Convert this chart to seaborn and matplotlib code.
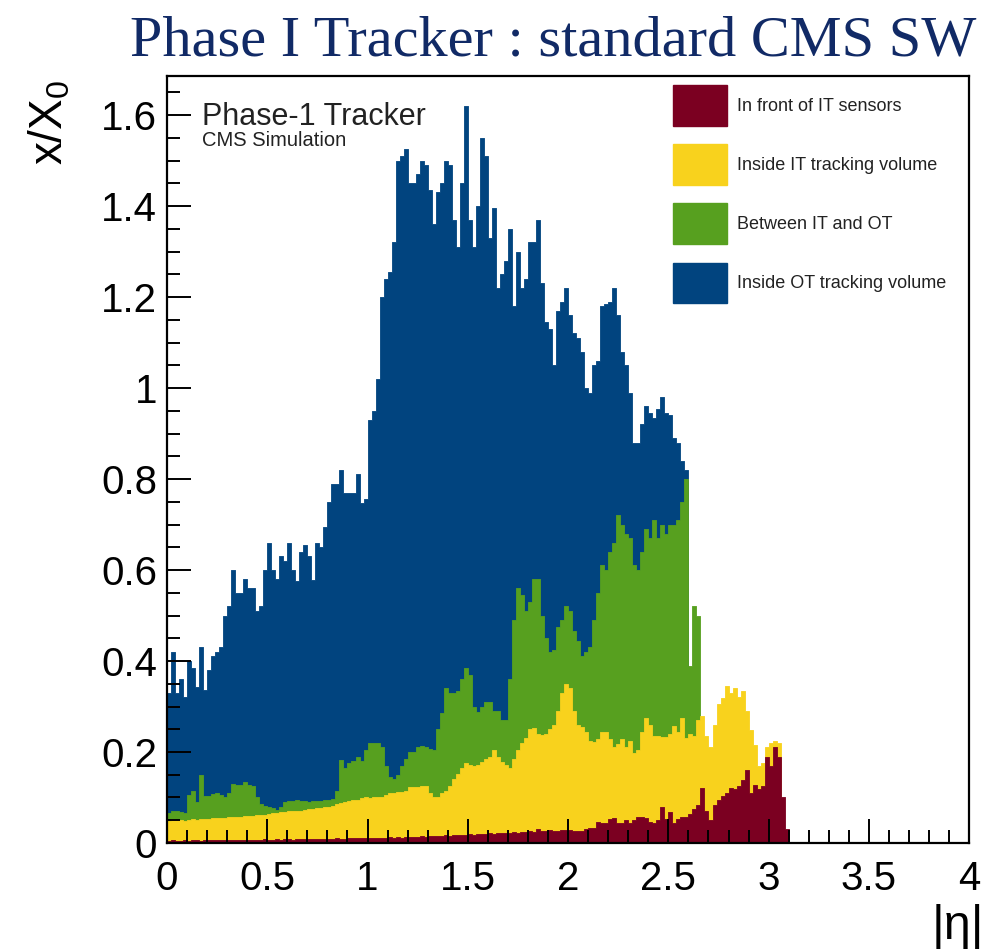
import numpy as np
import pandas as pd
import matplotlib
matplotlib.use("Agg")
import matplotlib.pyplot as plt
import seaborn as sns
from matplotlib.ticker import MultipleLocator, FuncFormatter
from matplotlib.patches import Patch

# Material budget x/X0 versus |eta|, stacked by detector region.
# Each array holds the top of the stacked layer in bins of width 0.02 starting at |eta| = 0.
BIN_WIDTH = 0.02

# Top of the full stack (Inside OT tracking volume layer)
level_total = [
    0.33, 0.42, 0.33, 0.36, 0.32, 0.40, 0.385, 0.343, 0.43, 0.336,
    0.38, 0.41, 0.42, 0.43, 0.50, 0.52, 0.60, 0.55, 0.55, 0.58,
    0.56, 0.56, 0.51, 0.52, 0.60, 0.66, 0.60, 0.58, 0.63, 0.62,
    0.66, 0.60, 0.575, 0.64, 0.655, 0.63, 0.578, 0.66, 0.65, 0.695,
    0.75, 0.79, 0.79, 0.82, 0.77, 0.77, 0.77, 0.81, 0.747, 0.757,
    0.93, 0.95, 1.02, 1.20, 1.24, 1.255, 1.32, 1.50, 1.51, 1.525,
    1.45, 1.45, 1.47, 1.50, 1.49, 1.435, 1.36, 1.43, 1.45, 1.50,
    1.49, 1.37, 1.31, 1.45, 1.62, 1.37, 1.31, 1.40, 1.55, 1.51,
    1.33, 1.395, 1.22, 1.25, 1.28, 1.35, 1.18, 1.30, 1.22, 1.24,
    1.32, 1.32, 1.37, 1.23, 1.145, 1.13, 1.05, 1.17, 1.19, 1.22,
    1.16, 1.12, 1.11, 1.08, 1.00, 0.99, 1.05, 1.06, 1.18, 1.185,
    1.19, 1.22, 1.16, 1.08, 1.05, 0.99, 0.88, 0.88, 0.92, 0.96,
    0.945, 0.935, 0.955, 0.98, 0.945, 0.94, 0.89, 0.88, 0.84, 0.82,
]

# Top of the "Between IT and OT" layer
level_between = [
    0.065, 0.07, 0.07, 0.068, 0.066, 0.105, 0.115, 0.09, 0.15, 0.103,
    0.103, 0.107, 0.11, 0.105, 0.10, 0.11, 0.13, 0.127, 0.127, 0.135,
    0.127, 0.125, 0.10, 0.085, 0.082, 0.08, 0.078, 0.073, 0.08, 0.09,
    0.093, 0.093, 0.094, 0.092, 0.092, 0.091, 0.093, 0.092, 0.093, 0.095,
    0.095, 0.096, 0.115, 0.182, 0.165, 0.175, 0.18, 0.19, 0.18, 0.205,
    0.22, 0.22, 0.22, 0.21, 0.17, 0.145, 0.14, 0.15, 0.17, 0.185,
    0.20, 0.20, 0.21, 0.214, 0.21, 0.207, 0.205, 0.25, 0.285, 0.34,
    0.33, 0.33, 0.335, 0.36, 0.385, 0.37, 0.30, 0.288, 0.30, 0.31,
    0.31, 0.29, 0.29, 0.27, 0.27, 0.36, 0.49, 0.56, 0.545, 0.51,
    0.53, 0.58, 0.58, 0.50, 0.45, 0.42, 0.425, 0.475, 0.49, 0.52,
    0.51, 0.465, 0.445, 0.41, 0.42, 0.43, 0.49, 0.55, 0.61, 0.60,
    0.64, 0.66, 0.72, 0.70, 0.68, 0.67, 0.61, 0.60, 0.64, 0.69,
    0.67, 0.71, 0.67, 0.70, 0.68, 0.70, 0.70, 0.71, 0.75, 0.80,
    0.39, 0.52, 0.50,
]

# Top of the "Inside IT tracking volume" layer
level_inside_it = [
    0.048, 0.052, 0.050, 0.051, 0.049, 0.050, 0.052, 0.051, 0.053, 0.052,
    0.053, 0.054, 0.055, 0.054, 0.056, 0.057, 0.058, 0.057, 0.058, 0.059,
    0.060, 0.059, 0.061, 0.062, 0.062, 0.063, 0.065, 0.066, 0.068, 0.069,
    0.070, 0.070, 0.071, 0.070, 0.073, 0.075, 0.074, 0.076, 0.078, 0.079,
    0.080, 0.082, 0.085, 0.089, 0.090, 0.092, 0.095, 0.094, 0.098, 0.100,
    0.099, 0.10, 0.10, 0.10, 0.105, 0.11, 0.11, 0.113, 0.113, 0.115,
    0.123, 0.123, 0.123, 0.125, 0.125, 0.11, 0.10, 0.102, 0.11, 0.115,
    0.125, 0.14, 0.152, 0.165, 0.175, 0.172, 0.17, 0.172, 0.177, 0.185,
    0.19, 0.205, 0.19, 0.177, 0.172, 0.165, 0.185, 0.205, 0.22, 0.23,
    0.25, 0.252, 0.24, 0.238, 0.24, 0.25, 0.26, 0.29, 0.33, 0.35,
    0.34, 0.29, 0.26, 0.255, 0.244, 0.225, 0.222, 0.228, 0.245, 0.245,
    0.228, 0.212, 0.218, 0.228, 0.212, 0.225, 0.198, 0.205, 0.244, 0.275,
    0.26, 0.235, 0.235, 0.232, 0.232, 0.24, 0.258, 0.245, 0.275, 0.23,
    0.24, 0.235, 0.27, 0.28, 0.235, 0.21, 0.26, 0.305, 0.318, 0.345,
    0.33, 0.34, 0.32, 0.335, 0.29, 0.248, 0.215, 0.17, 0.175, 0.21,
    0.22, 0.225, 0.22,
]

# Top of the "In front of IT sensors" layer (bottom of the stack)
level_front = [
    0.005, 0.006, 0.005, 0.005, 0.006, 0.005, 0.006, 0.006, 0.005, 0.006,
    0.006, 0.006, 0.007, 0.006, 0.006, 0.007, 0.006, 0.007, 0.007, 0.006,
    0.007, 0.007, 0.006, 0.007, 0.008, 0.007, 0.007, 0.008, 0.007, 0.008,
    0.008, 0.007, 0.008, 0.008, 0.009, 0.008, 0.008, 0.009, 0.009, 0.008,
    0.009, 0.009, 0.010, 0.009, 0.009, 0.010, 0.010, 0.011, 0.010, 0.010,
    0.011, 0.011, 0.012, 0.011, 0.012, 0.013, 0.012, 0.013, 0.012, 0.013,
    0.014, 0.013, 0.014, 0.015, 0.014, 0.015, 0.016, 0.015, 0.016, 0.017,
    0.016, 0.017, 0.018, 0.017, 0.018, 0.019, 0.018, 0.020, 0.019, 0.020,
    0.021, 0.020, 0.022, 0.021, 0.023, 0.022, 0.024, 0.023, 0.025, 0.024,
    0.026, 0.025, 0.030, 0.026, 0.027, 0.028, 0.026, 0.027, 0.028, 0.029,
    0.029, 0.027, 0.027, 0.027, 0.030, 0.033, 0.033, 0.046, 0.044, 0.044,
    0.052, 0.055, 0.045, 0.045, 0.051, 0.045, 0.051, 0.058, 0.058, 0.055,
    0.046, 0.044, 0.050, 0.080, 0.052, 0.068, 0.045, 0.052, 0.058, 0.058,
    0.064, 0.075, 0.084, 0.120, 0.070, 0.050, 0.084, 0.095, 0.103, 0.110,
    0.120, 0.118, 0.125, 0.138, 0.160, 0.110, 0.128, 0.118, 0.125, 0.190,
    0.170, 0.210, 0.190, 0.100, 0.030,
]

region_labels = [
    "In front of IT sensors",
    "Inside IT tracking volume",
    "Between IT and OT",
    "Inside OT tracking volume",
]
region_colors = ["#7b0021", "#f8d21d", "#57a01f", "#01447f"]

x_ticks = [0, 0.5, 1, 1.5, 2, 2.5, 3, 3.5, 4]
y_ticks = [0, 0.2, 0.4, 0.6, 0.8, 1.0, 1.2, 1.4, 1.6]

sns.set_theme(style="white")
plt.rcParams["font.family"] = ["Liberation Sans", "DejaVu Sans"]
plt.rcParams["mathtext.default"] = "regular"

fig = plt.figure(figsize=(9.88, 9.49), dpi=100)
ax = fig.add_axes([0.169, 0.1117, 0.812, 0.8083])
ax.set_axisbelow(False)

# Draw the stack from the outermost level inwards, each filled down to zero
stack = [
    (level_total, region_colors[3]),
    (level_between, region_colors[2]),
    (level_inside_it, region_colors[1]),
    (level_front, region_colors[0]),
]
for levels, color in stack:
    n = len(levels)
    centers = (np.arange(n) + 0.5) * BIN_WIDTH
    frame = pd.DataFrame({"eta": centers, "x0": levels})
    sns.histplot(data=frame, x="eta", weights="x0", bins=n,
                 binrange=(0, n * BIN_WIDTH), element="step",
                 fill=True, color=color, alpha=1.0, linewidth=0.6,
                 edgecolor=color, ax=ax)

ax.set_xlim(0, 4)
ax.set_ylim(0, 1.686)
ax.set_xticks(x_ticks)
ax.set_yticks(y_ticks)
ax.xaxis.set_minor_locator(MultipleLocator(0.1))
ax.yaxis.set_minor_locator(MultipleLocator(0.05))
fmt = FuncFormatter(lambda v, _: f"{v:g}")
ax.xaxis.set_major_formatter(fmt)
ax.yaxis.set_major_formatter(fmt)
ax.tick_params(which="both", direction="in", bottom=True, left=True,
               top=False, right=False, color="black", width=1.4,
               labelsize=29, labelcolor="black")
ax.tick_params(axis="x", which="major", length=17, pad=12.5)
ax.tick_params(axis="y", which="major", length=17, pad=7)
ax.tick_params(which="minor", length=9.5)
ax.set_xlabel("")
ax.set_ylabel("")
for sp in ax.spines.values():
    sp.set_color("black")
    sp.set_linewidth(1.6)
    sp.set_zorder(5)

# Plot annotations
ax.text(0.0436, 0.936, "Phase-1 Tracker", transform=ax.transAxes,
        fontsize=22, color="#222222", ha="left", va="baseline")
ax.text(0.0436, 0.909, "CMS Simulation", transform=ax.transAxes,
        fontsize=14.5, color="#222222", ha="left", va="baseline")

handles = [Patch(facecolor=c, edgecolor=c) for c in region_colors]
fig.legend(handles, region_labels, loc="upper left",
           bbox_to_anchor=(673 / 988, 1 - 85 / 949),
           bbox_transform=fig.transFigure, frameon=False, fontsize=13,
           handlelength=3.0, handleheight=3.1, labelspacing=1.02,
           handletextpad=0.55, borderpad=0, borderaxespad=0,
           labelcolor="#222222")

# Axis titles in the corners
fig.text(0.0506, 1 - 80 / 949, "x/X$_0$", rotation=90, ha="center",
         va="top", fontsize=33, color="black")
fig.text(0.996, 0.0, "|η|", ha="right", va="bottom",
         fontsize=35, color="black")

fig.text(0.560, 1 - 56 / 949, "Phase I Tracker : standard CMS SW",
         ha="center", va="baseline", fontsize=42, color="#112a66",
         family=["Liberation Serif", "DejaVu Serif"])

fig.savefig("out.png", dpi=100, facecolor="white")
